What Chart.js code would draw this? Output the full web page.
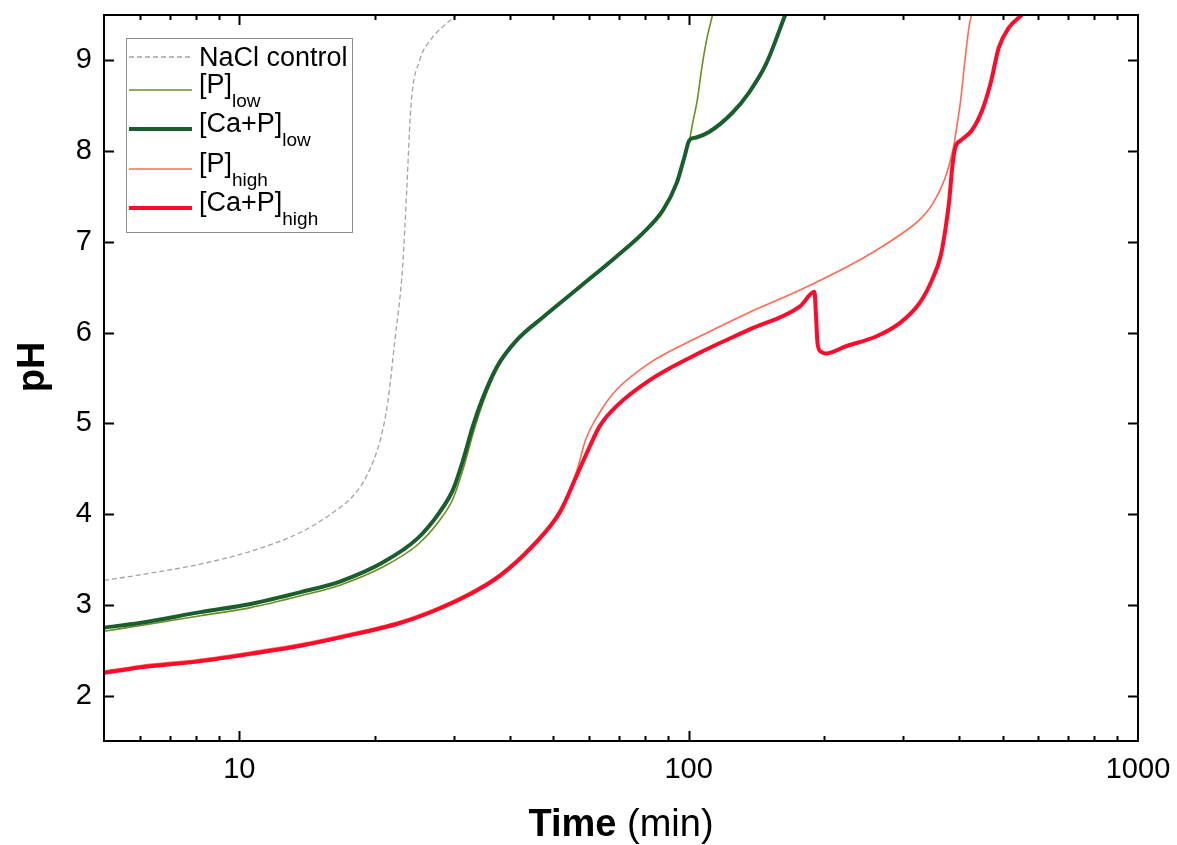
<!DOCTYPE html>
<html>
<head>
<meta charset="utf-8">
<script src="https://cdn.jsdelivr.net/npm/chart.js@4.4.1/dist/chart.umd.min.js"></script>
<style>
  body { margin: 0; background: #fff; }
  #wrap { width: 1177px; height: 845px; }
</style>
</head>
<body>
<div id="wrap"><canvas id="phChart" width="1177" height="845"></canvas></div>
<script>
const FONT = "'Liberation Sans', Arial, Helvetica, sans-serif";

// NaCl control
const naclTime = [5, 6, 8.2, 10.6, 13.7, 16.2, 17.9, 19.2, 20.6, 21.4, 22.2, 23.1, 23.6, 24.1, 25.2, 26.6, 28.5, 30.5];
const naclPH   = [3.27, 3.33, 3.45, 3.59, 3.80, 4.02, 4.20, 4.42, 4.82, 5.23, 5.92, 6.73, 7.6, 8.5, 9.0, 9.22, 9.38, 9.5];

// [P]low
const pLowTime = [5, 6, 8.2, 10.6, 13.7, 16.8, 20.9, 24.9, 27.9, 29.9, 31.5, 33.1, 34.7, 37.5, 41.5, 47.4, 58.1, 69.1, 79.2, 87.7, 94.1, 97.8, 100.4, 102, 104.5, 107, 109.6, 113];
const pLowPH   = [2.71, 2.77, 2.88, 2.97, 3.10, 3.22, 3.42, 3.66, 3.93, 4.17, 4.50, 4.88, 5.20, 5.60, 5.91, 6.17, 6.53, 6.84, 7.11, 7.36, 7.65, 7.93, 8.12, 8.30, 8.56, 8.92, 9.22, 9.5];

// [Ca+P]low
const caLowTime = [5, 6, 8.2, 10.6, 13.7, 16.8, 20.9, 24.9, 27.9, 29.9, 31.5, 33.1, 34.7, 37.5, 41.5, 47.4, 58.1, 69.1, 79.2, 87.7, 94.1, 97.8, 100.4, 104, 111, 125, 136, 149, 164];
const caLowPH   = [2.75, 2.80, 2.92, 3.01, 3.14, 3.26, 3.47, 3.73, 4.02, 4.27, 4.60, 4.97, 5.26, 5.63, 5.92, 6.17, 6.53, 6.84, 7.10, 7.35, 7.65, 7.93, 8.12, 8.15, 8.21, 8.42, 8.64, 8.97, 9.5];

// [P]high
const pHighTime = [5, 6, 8.2, 10.6, 13.7, 17.1, 22.8, 27.0, 32.1, 38.0, 45.0, 51.7, 56.3, 59, 63.4, 69.1, 82.1, 106, 136, 177, 228, 260, 294, 326, 345, 361, 372, 380, 388, 394, 403, 412, 421, 426];
const pHighPH   = [2.27, 2.33, 2.40, 2.48, 2.57, 2.67, 2.82, 2.95, 3.12, 3.34, 3.67, 4.05, 4.47, 4.82, 5.12, 5.37, 5.67, 5.96, 6.22, 6.47, 6.74, 6.90, 7.07, 7.24, 7.38, 7.55, 7.70, 7.85, 8.03, 8.23, 8.56, 9.0, 9.38, 9.5];

// [Ca+P]high
const caHighTime = [5, 6, 8.2, 10.6, 13.7, 17.1, 22.8, 27.0, 32.1, 38.0, 45.0, 51.7, 56.3, 60.3, 63.4, 69.1, 82.1, 106, 136, 177, 190.6, 192, 193.6, 197, 202, 224, 262, 296, 327, 348, 364, 373, 380, 386, 392, 404, 427, 450, 470, 490, 516, 551];
const caHighPH   = [2.25, 2.31, 2.38, 2.46, 2.55, 2.65, 2.80, 2.93, 3.10, 3.32, 3.65, 4.02, 4.42, 4.75, 4.97, 5.19, 5.48, 5.78, 6.03, 6.29, 6.45, 6.2, 5.88, 5.79, 5.77, 5.85, 5.96, 6.11, 6.33, 6.58, 6.85, 7.15, 7.45, 7.82, 8.04, 8.12, 8.23, 8.45, 8.75, 9.14, 9.36, 9.5];

const xTickValues = [10, 100, 1000];
const yTickValues = [2, 3, 4, 5, 6, 7, 8, 9];

const series = [
  { label: 'NaCl control', sub: '',     t: naclTime,   ph: naclPH,   color: '#a3a3a3', width: 1.3, dash: [5, 3], order: 4, legendY: 57 },
  { label: '[P]',          sub: 'low',  t: pLowTime,   ph: pLowPH,   color: '#6b8e23', width: 1.6, dash: [],     order: 3, legendY: 90 },
  { label: '[Ca+P]',       sub: 'low',  t: caLowTime,  ph: caLowPH,  color: '#1b5e2e', width: 4,   dash: [],     order: 1, legendY: 129 },
  { label: '[P]',          sub: 'high', t: pHighTime,  ph: pHighPH,  color: '#ff6a55', width: 1.6, dash: [],     order: 2, legendY: 169 },
  { label: '[Ca+P]',       sub: 'high', t: caHighTime, ph: caHighPH, color: '#ff0a2a', width: 4,   dash: [],     order: 0, legendY: 208 }
];

const datasets = series.map(s => ({
  label: s.label + s.sub,
  data: s.t.map((v, i) => ({ x: v, y: s.ph[i] })),
  borderColor: s.color,
  borderWidth: s.width,
  borderDash: s.dash,
  pointRadius: 0,
  cubicInterpolationMode: 'monotone',
  order: s.order,
  clip: 0
}));

// frame, inward ticks, legend with subscripts and axis titles
const decorPlugin = {
  id: 'decor',
  afterDraw(chart) {
    const { ctx, chartArea: a, scales } = chart;
    const xs = scales.x, ys = scales.y;
    ctx.save();
    ctx.strokeStyle = '#000';
    ctx.lineWidth = 2;
    ctx.strokeRect(a.left, a.top, a.right - a.left, a.bottom - a.top);

    ctx.beginPath();
    for (let d = 1; d <= 1000; d *= 10) {
      for (let m = 1; m < 10; m++) {
        const v = d * m;
        if (v <= 5 || v >= 1000) continue;
        const px = Math.round(xs.getPixelForValue(v)) + 0.5;
        const len = m === 1 ? 10 : 5;
        ctx.moveTo(px, a.bottom); ctx.lineTo(px, a.bottom - len);
        ctx.moveTo(px, a.top); ctx.lineTo(px, a.top + len);
      }
    }
    yTickValues.forEach(v => {
      const py = Math.round(ys.getPixelForValue(v)) + 0.5;
      ctx.moveTo(a.left, py); ctx.lineTo(a.left + 10, py);
      ctx.moveTo(a.right, py); ctx.lineTo(a.right - 10, py);
    });
    ctx.stroke();

    // legend
    const lx = 126, ly = 38, lw = 226, lh = 194;
    ctx.fillStyle = '#fff';
    ctx.fillRect(lx, ly, lw, lh);
    ctx.strokeStyle = '#8c8c8c';
    ctx.lineWidth = 1;
    ctx.strokeRect(lx + 0.5, ly + 0.5, lw, lh);
    series.forEach(s => {
      const y = s.legendY;
      ctx.beginPath();
      ctx.strokeStyle = s.color;
      ctx.lineWidth = s.width;
      ctx.setLineDash(s.dash);
      ctx.moveTo(129, y); ctx.lineTo(192, y);
      ctx.stroke();
      ctx.setLineDash([]);
      ctx.fillStyle = '#000';
      ctx.textAlign = 'left';
      ctx.textBaseline = 'alphabetic';
      ctx.font = '27px ' + FONT;
      if (s.sub) {
        ctx.fillText(s.label, 199, y + 3);
        const w = ctx.measureText(s.label).width;
        ctx.font = '19px ' + FONT;
        ctx.fillText(s.sub, 199 + w, y + 17);
      } else {
        ctx.fillText(s.label, 199, y + 9);
      }
    });

    // axis titles
    ctx.fillStyle = '#000';
    ctx.font = 'bold 38px ' + FONT;
    const boldW = ctx.measureText('Time').width;
    ctx.font = '38px ' + FONT;
    const restW = ctx.measureText(' (min)').width;
    const x0 = (a.left + a.right) / 2 - (boldW + restW) / 2;
    ctx.textAlign = 'left';
    ctx.font = 'bold 38px ' + FONT;
    ctx.fillText('Time', x0, 836);
    ctx.font = '38px ' + FONT;
    ctx.fillText(' (min)', x0 + boldW, 836);

    ctx.translate(44, 367);
    ctx.rotate(-Math.PI / 2);
    ctx.textAlign = 'center';
    ctx.font = 'bold 38px ' + FONT;
    ctx.fillText('pH', 0, 0);
    ctx.restore();
  }
};

new Chart(document.getElementById('phChart').getContext('2d'), {
  type: 'line',
  data: { datasets },
  options: {
    responsive: false,
    animation: false,
    layout: { padding: { top: 15, right: 39, left: 0, bottom: 0 } },
    plugins: { legend: { display: false }, tooltip: { enabled: false } },
    scales: {
      x: {
        type: 'logarithmic',
        min: 5,
        max: 1000,
        afterBuildTicks: s => { s.ticks = xTickValues.map(v => ({ value: v })); },
        afterFit: s => { s.height = 104; s.paddingLeft = 0; s.paddingRight = 0; },
        grid: { display: false, drawTicks: false },
        border: { display: false },
        ticks: {
          autoSkip: false,
          maxRotation: 0,
          padding: 12,
          color: '#000',
          font: { family: FONT, size: 29 },
          callback: v => String(v)
        }
      },
      y: {
        type: 'linear',
        min: 1.5,
        max: 9.5,
        afterBuildTicks: s => { s.ticks = yTickValues.map(v => ({ value: v })); },
        afterFit: s => { s.width = 104; s.paddingTop = 0; s.paddingBottom = 0; },
        grid: { display: false, drawTicks: false },
        border: { display: false },
        ticks: {
          padding: 12,
          color: '#000',
          font: { family: FONT, size: 29 }
        }
      }
    }
  },
  plugins: [decorPlugin]
});
</script>
</body>
</html>
